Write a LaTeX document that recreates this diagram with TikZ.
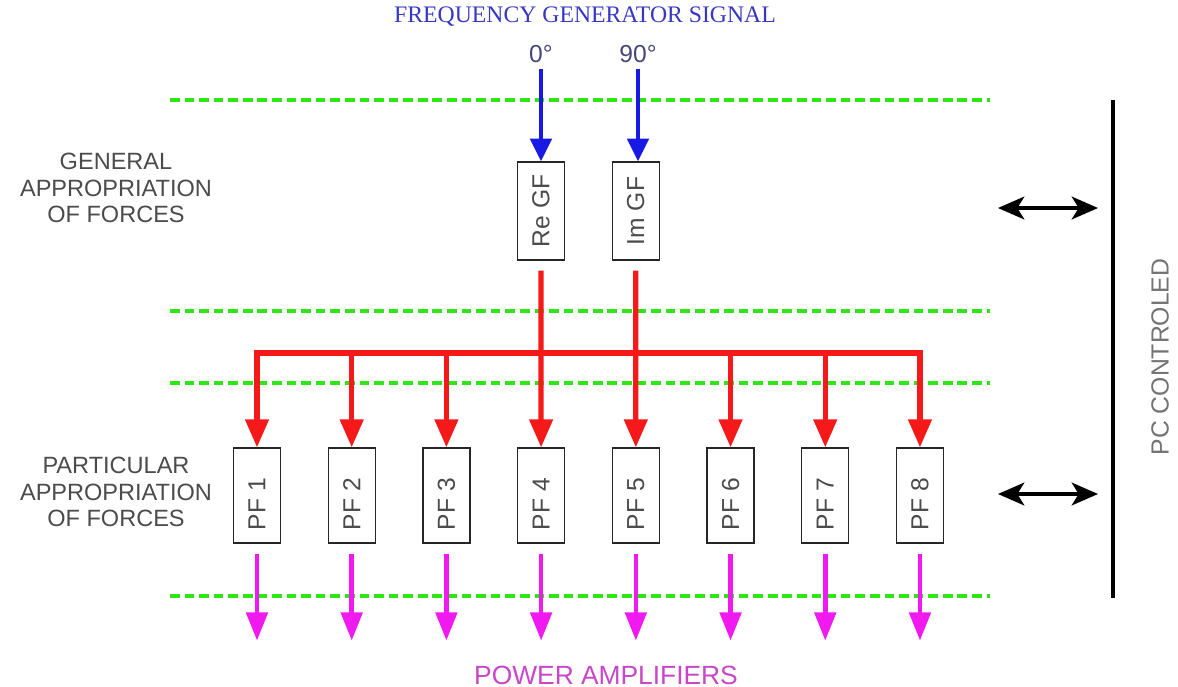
\documentclass[tikz,border=0pt]{standalone}
\usepackage{fontspec}
\setmainfont{Liberation Sans}
\newfontfamily\titlefont{Liberation Serif}
\usetikzlibrary{positioning,arrows.meta}
\definecolor{sigBlue}{RGB}{25,25,230}
\definecolor{titleBlue}{RGB}{55,55,195}
\definecolor{busRed}{RGB}{245,25,25}
\definecolor{ampMagenta}{RGB}{240,25,240}
\definecolor{ampText}{RGB}{200,70,200}
\definecolor{levelGreen}{RGB}{45,230,20}
\definecolor{textGray}{RGB}{75,75,75}
\definecolor{degGray}{RGB}{70,70,120}
\newcommand{\pflabel}[1]{\rotatebox{90}{#1\hspace{0.35cm}}}

\begin{document}
\begin{tikzpicture}[x=0.02cm,y=-0.02cm,node distance=0.93cm,every node/.style={align=center,text=textGray},
  gfbox/.style={draw=black!85,line width=0.7pt,minimum width=0.94cm,minimum height=1.96cm,inner sep=0pt,font=\fontsize{14}{16}\selectfont},
  pfbox/.style={gfbox,minimum height=1.9cm},
  level/.style={levelGreen,line width=2.8pt,dash pattern=on 5.5pt off 2.8pt},
  sigarrow/.style={sigBlue,line width=2.8pt,-{Triangle[length=13pt,width=12pt]}},
  busline/.style={busRed,line width=3pt,line cap=rect},
  busarrow/.style={busRed,line width=3pt,-{Triangle[length=16pt,width=13pt]}},
  amparrow/.style={ampMagenta,line width=2.6pt,-{Triangle[length=16pt,width=12pt]}},
  pcarrow/.style={line width=1.8pt,{Stealth[length=15pt,width=13pt,inset=4pt]}-{Stealth[length=15pt,width=13pt,inset=4pt]}},
  sidelabel/.style={font=\fontsize{13.4}{15.3}\selectfont}]
\useasboundingbox (0,0) rectangle (1178,687);

% level lines
\draw[level] (170,100) -- (990,100);
\draw[level] (170,311) -- (990,311);
\draw[level] (170,383) -- (990,383);
\draw[level] (170,596) -- (990,596);

% labels
\node[font=\titlefont\fontsize{13.5}{16}\selectfont,text=titleBlue] (title) at (585,17) {FREQUENCY GENERATOR SIGNAL};
\node[font=\fontsize{14}{16}\selectfont,text=degGray] (deg0) at (541,54) {0°};
\node[font=\fontsize{14}{16}\selectfont,text=degGray] (deg90) at (638,54) {90°};
\node[sidelabel] (gen) at (116,188) {GENERAL\\APPROPRIATION\\OF FORCES};
\node[sidelabel] (part) at (116,492) {PARTICULAR\\APPROPRIATION\\OF FORCES};
\node[font=\fontsize{15}{18}\selectfont,text=ampText] (amps) at (606,675) {POWER AMPLIFIERS};
\node[font=\fontsize{14.1}{16}\selectfont,text=black!55,rotate=90] (pc) at (1160,357) {PC CONTROLED};

% boxes
\node[gfbox] (re) at (541,211) {\rotatebox{90}{Re GF}};
\node[gfbox,right=of re] (im) {\rotatebox{90}{Im GF}};
\node[pfbox] (pf1) at (257,495.5) {\pflabel{PF 1}};
\node[pfbox,right=of pf1] (pf2) {\pflabel{PF 2}};
\node[pfbox,right=of pf2] (pf3) {\pflabel{PF 3}};
\node[pfbox,right=of pf3] (pf4) {\pflabel{PF 4}};
\node[pfbox,right=of pf4] (pf5) {\pflabel{PF 5}};
\node[pfbox,right=of pf5] (pf6) {\pflabel{PF 6}};
\node[pfbox,right=of pf6] (pf7) {\pflabel{PF 7}};
\node[pfbox,right=of pf7] (pf8) {\pflabel{PF 8}};

% signal in
\draw[sigarrow] (deg0) -- (deg0 |- re.north);
\draw[sigarrow] (deg90 |- deg0.south) -- (deg90 |- im.north);

% distribution bus
\coordinate (bus) at (541,353);
\draw[busline] (pf1.north |- bus) -- (pf8.north |- bus);
\draw[busarrow,shorten <=5.7pt] (re) -- (pf4);\draw[busarrow,shorten <=5.7pt] (im) -- (pf5);
\draw[busarrow] (pf1.north |- bus) -- (pf1.north);\draw[busarrow] (pf2.north |- bus) -- (pf2.north);
\draw[busarrow] (pf3.north |- bus) -- (pf3.north);\draw[busarrow] (pf6.north |- bus) -- (pf6.north);
\draw[busarrow] (pf7.north |- bus) -- (pf7.north);\draw[busarrow] (pf8.north |- bus) -- (pf8.north);

% to power amplifiers
\coordinate[below=1.94cm of pf1.south] (pa1);\coordinate[below=1.94cm of pf2.south] (pa2);
\coordinate[below=1.94cm of pf3.south] (pa3);\coordinate[below=1.94cm of pf4.south] (pa4);
\coordinate[below=1.94cm of pf5.south] (pa5);\coordinate[below=1.94cm of pf6.south] (pa6);
\coordinate[below=1.94cm of pf7.south] (pa7);\coordinate[below=1.94cm of pf8.south] (pa8);
\draw[amparrow,shorten <=5.7pt] (pf1) -- (pa1);\draw[amparrow,shorten <=5.7pt] (pf2) -- (pa2);
\draw[amparrow,shorten <=5.7pt] (pf3) -- (pa3);\draw[amparrow,shorten <=5.7pt] (pf4) -- (pa4);
\draw[amparrow,shorten <=5.7pt] (pf5) -- (pa5);\draw[amparrow,shorten <=5.7pt] (pf6) -- (pa6);
\draw[amparrow,shorten <=5.7pt] (pf7) -- (pa7);\draw[amparrow,shorten <=5.7pt] (pf8) -- (pa8);

% pc control
\coordinate (pcTop) at (1113,100);\coordinate (pcBot) at (1113,598);
\draw[line width=2.4pt] (pcTop) -- (pcBot);
\coordinate (pcA) at (998,208);\coordinate (pcB) at (1098,208);
\coordinate (pcC) at (998,494);\coordinate (pcD) at (1098,494);
\draw[pcarrow] (pcA) -- (pcB);\draw[pcarrow] (pcC) -- (pcD);
\end{tikzpicture}
\end{document}
